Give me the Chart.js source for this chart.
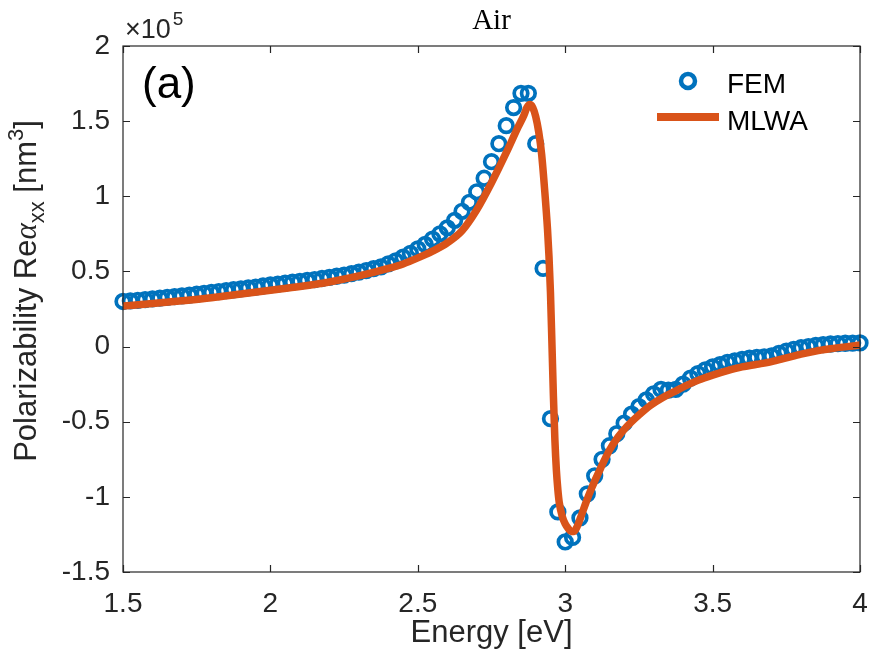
<!DOCTYPE html>
<html>
<head>
<meta charset="utf-8">
<title>Air</title>
<script src="https://cdn.jsdelivr.net/npm/chart.js@4.4.1/dist/chart.umd.min.js"></script>
<style>
  html, body { margin: 0; padding: 0; background: #fff; }
  #wrap { width: 875px; height: 656px; }
</style>
</head>
<body>
<div id="wrap"><canvas id="plot" width="875" height="656"></canvas></div>
<script>
// values, in units of 1e5 nm^3
var femEnergy = [1.500,1.525,1.550,1.575,1.600,1.625,1.650,1.675,1.700,1.725,
                 1.750,1.775,1.800,1.825,1.850,1.875,1.900,1.925,1.950,1.975,
                 2.000,2.025,2.050,2.075,2.100,2.125,2.150,2.175,2.200,2.225,
                 2.250,2.275,2.300,2.325,2.350,2.375,2.400,2.425,2.450,2.475,
                 2.500,2.525,2.550,2.575,2.600,2.625,2.650,2.675,2.700,2.725,
                 2.750,2.775,2.800,2.825,2.850,2.875,2.900,2.925,2.950,2.975,
                 3.000,3.025,3.050,3.075,3.100,3.125,3.150,3.175,3.200,3.225,
                 3.250,3.275,3.300,3.325,3.350,3.375,3.400,3.425,3.450,3.475,
                 3.500,3.525,3.550,3.575,3.600,3.625,3.650,3.675,3.700,3.725,
                 3.750,3.775,3.800,3.825,3.850,3.875,3.900,3.925,3.950,3.975,
                 4.000];
var femAlpha = [0.300,0.304,0.308,0.312,0.317,0.322,0.327,0.332,0.337,0.342,
                0.348,0.354,0.360,0.366,0.372,0.378,0.384,0.390,0.396,0.403,
                0.410,0.416,0.422,0.428,0.434,0.440,0.446,0.453,0.460,0.468,
                0.476,0.485,0.495,0.506,0.518,0.530,0.550,0.570,0.595,0.620,
                0.650,0.680,0.715,0.750,0.790,0.840,0.900,0.960,1.030,1.120,
                1.230,1.350,1.470,1.590,1.685,1.685,1.350,0.520,-0.480,-1.100,
                -1.300,-1.270,-1.140,-0.980,-0.860,-0.750,-0.660,-0.580,-0.510,-0.450,
                -0.400,-0.355,-0.315,-0.285,-0.290,-0.285,-0.250,-0.210,-0.180,-0.155,
                -0.135,-0.120,-0.105,-0.095,-0.085,-0.077,-0.072,-0.068,-0.062,-0.045,
                -0.030,-0.018,-0.008,0.000,0.008,0.013,0.017,0.020,0.022,0.023,
                0.024];

var mlwaEnergy = [1.50,1.60,1.70,1.80,1.90,2.00,2.10,2.20,2.30,2.40,2.45,2.50,2.55,2.60,2.65,
                  2.70,2.75,2.80,2.84,2.86,2.87,2.88,2.89,2.90,2.91,2.92,2.93,2.94,2.945,
                  2.95,2.955,2.96,2.965,2.97,2.975,2.98,2.99,3.00,3.01,3.02,3.03,3.04,3.05,
                  3.07,3.09,3.12,3.15,3.18,3.21,3.25,3.29,3.33,3.37,3.41,3.45,3.50,3.55,
                  3.60,3.65,3.70,3.75,3.80,3.85,3.90,3.95,4.00];
var mlwaAlpha = [0.270,0.287,0.305,0.325,0.350,0.375,0.400,0.430,0.470,0.520,0.550,0.590,0.635,0.690,0.770,
                 0.910,1.090,1.290,1.460,1.540,1.590,1.610,1.590,1.530,1.430,1.280,1.050,0.780,0.600,
                 0.360,0.020,-0.330,-0.620,-0.820,-0.950,-1.040,-1.130,-1.180,-1.210,-1.230,-1.230,-1.200,-1.150,
                 -1.040,-0.940,-0.810,-0.690,-0.600,-0.530,-0.455,-0.390,-0.340,-0.300,-0.260,-0.225,-0.190,-0.160,
                 -0.135,-0.118,-0.100,-0.075,-0.050,-0.030,-0.015,-0.002,0.010];

var xTicks = [1.5, 2, 2.5, 3, 3.5, 4];
var yTicks = [-1.5, -1, -0.5, 0, 0.5, 1, 1.5, 2];

var blue = '#0072BD';
var orange = '#D95319';
var axisCol = '#262626';
var sans = '"Liberation Sans", Arial, sans-serif';

function pairs(xs, ys) {
    var out = [];
    for (var i = 0; i < xs.length; i++) out.push({x: xs[i], y: ys[i]});
    return out;
}

// box, inward ticks, titles, legend and the axis label with sub/superscripts
var decor = {
    id: 'decor',
    afterDraw: function (chart) {
        var ctx = chart.ctx;
        var a = chart.chartArea;
        var sx = chart.scales.x, sy = chart.scales.y;
        ctx.save();
        ctx.strokeStyle = axisCol;
        ctx.lineWidth = 1.2;
        ctx.strokeRect(a.left, a.top, a.right - a.left, a.bottom - a.top);
        ctx.beginPath();
        xTicks.forEach(function (v) {
            var px = Math.round(sx.getPixelForValue(v)) + 0.5;
            ctx.moveTo(px, a.bottom); ctx.lineTo(px, a.bottom - 7);
            ctx.moveTo(px, a.top); ctx.lineTo(px, a.top + 7);
        });
        yTicks.forEach(function (v) {
            var py = Math.round(sy.getPixelForValue(v)) + 0.5;
            ctx.moveTo(a.left, py); ctx.lineTo(a.left + 7, py);
            ctx.moveTo(a.right, py); ctx.lineTo(a.right - 7, py);
        });
        ctx.stroke();

        // title
        ctx.fillStyle = '#000';
        ctx.textAlign = 'center';
        ctx.textBaseline = 'alphabetic';
        ctx.font = '29px "Liberation Serif", serif';
        ctx.fillText('Air', (a.left + a.right) / 2, 29);

        // exponent
        ctx.fillStyle = axisCol;
        ctx.textAlign = 'left';
        ctx.font = '27px ' + sans;
        ctx.fillText('\u00d710', 125, 38);
        var w = ctx.measureText('\u00d710').width;
        ctx.font = '19px ' + sans;
        ctx.fillText('5', 125 + w + 2, 25);

        // panel letter
        ctx.fillStyle = '#000';
        ctx.font = '44px ' + sans;
        ctx.fillText('(a)', 142, 98);

        // legend
        ctx.strokeStyle = blue;
        ctx.lineWidth = 4.5;
        ctx.beginPath();
        ctx.arc(688, 81, 7, 0, Math.PI * 2);
        ctx.stroke();
        ctx.strokeStyle = orange;
        ctx.lineWidth = 8;
        ctx.beginPath();
        ctx.moveTo(657, 117); ctx.lineTo(719, 117);
        ctx.stroke();
        ctx.fillStyle = '#000';
        ctx.font = '28px ' + sans;
        ctx.fillText('FEM', 727, 93);
        ctx.fillText('MLWA', 727, 130);

        // x label
        ctx.fillStyle = axisCol;
        ctx.textAlign = 'center';
        ctx.font = '31px ' + sans;
        ctx.fillText('Energy [eV]', (a.left + a.right) / 2, 642);

        // y label, rotated, built from pieces
        var parts = [
            {t: 'Polarizability Re', f: '31px ' + sans, dy: 0},
            {t: '\u03b1', f: 'italic 31px "Liberation Serif", serif', dy: 0},
            {t: 'xx', f: '22px ' + sans, dy: 8},
            {t: ' [nm', f: '31px ' + sans, dy: 0},
            {t: '3', f: '22px ' + sans, dy: -13},
            {t: ']', f: '31px ' + sans, dy: 0}
        ];
        var total = 0;
        parts.forEach(function (p) { ctx.font = p.f; p.w = ctx.measureText(p.t).width; total += p.w; });
        ctx.translate(36, 291 + total / 2);
        ctx.rotate(-Math.PI / 2);
        ctx.textAlign = 'left';
        var cx = 0;
        parts.forEach(function (p) {
            ctx.font = p.f;
            ctx.fillText(p.t, cx, p.dy);
            cx += p.w;
        });
        ctx.restore();
    }
};

var ctx = document.getElementById('plot');
var chart = new Chart(ctx, {
    type: 'scatter',
    data: {
        datasets: [{
            label: 'MLWA',
            data: pairs(mlwaEnergy, mlwaAlpha),
            showLine: true,
            borderColor: orange,
            borderWidth: 7.5,
            pointRadius: 0,
            cubicInterpolationMode: 'monotone',
            order: 0
        }, {
            label: 'FEM',
            data: pairs(femEnergy, femAlpha),
            showLine: false,
            pointStyle: 'circle',
            pointRadius: 6.8,
            pointBorderWidth: 3.7,
            pointBorderColor: blue,
            pointBackgroundColor: 'rgba(0,0,0,0)',
            borderColor: blue,
            clip: false,
            order: 1
        }]
    },
    options: {
        responsive: false,
        animation: false,
        devicePixelRatio: 1,
        layout: { padding: { top: 46, right: 15, left: 0, bottom: 0 } },
        plugins: {
            legend: { display: false },
            tooltip: { enabled: false },
            title: { display: false }
        },
        scales: {
            x: {
                type: 'linear',
                min: 1.5,
                max: 4,
                afterFit: function (s) { s.height = 84; s.paddingLeft = 0; s.paddingRight = 0; },
                afterBuildTicks: function (s) { s.ticks = xTicks.map(function (v) { return {value: v}; }); },
                grid: { display: false, drawTicks: false },
                border: { display: false },
                ticks: {
                    padding: 15,
                    color: axisCol,
                    font: { family: 'Liberation Sans', size: 28 },
                    maxRotation: 0,
                    callback: function (v) { return String(v); }
                }
            },
            y: {
                type: 'linear',
                min: -1.5,
                max: 2,
                afterFit: function (s) { s.width = 123; s.paddingTop = 0; s.paddingBottom = 0; },
                afterBuildTicks: function (s) { s.ticks = yTicks.map(function (v) { return {value: v}; }); },
                grid: { display: false, drawTicks: false },
                border: { display: false },
                ticks: {
                    padding: 13,
                    color: axisCol,
                    font: { family: 'Liberation Sans', size: 28 },
                    callback: function (v) { return String(v); }
                }
            }
        }
    },
    plugins: [decor]
});
</script>
</body>
</html>
